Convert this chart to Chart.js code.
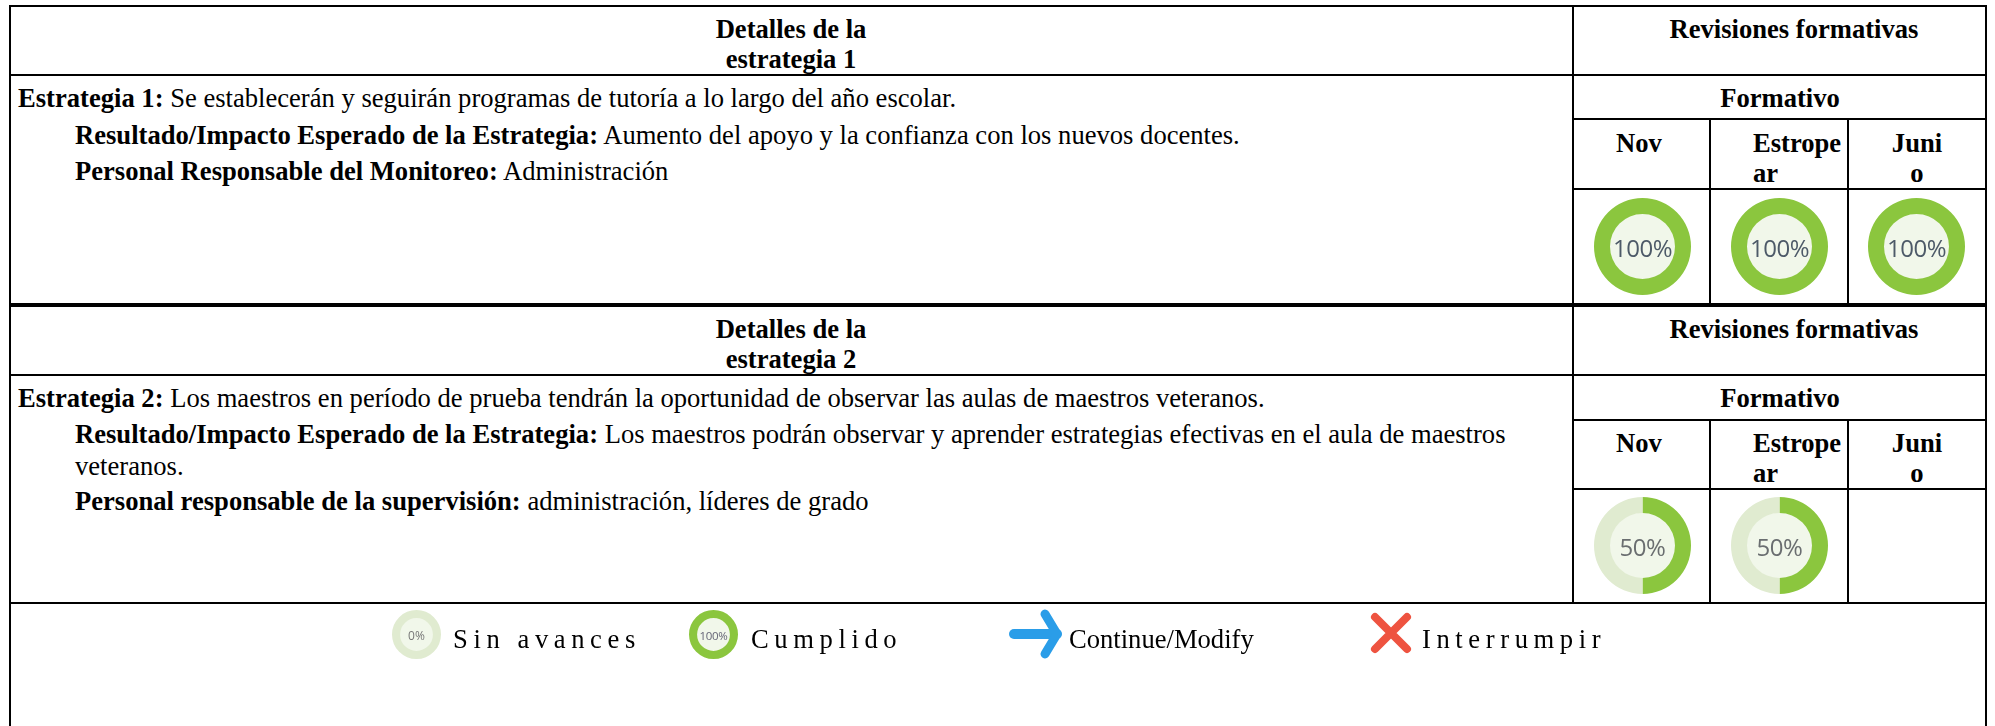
<!DOCTYPE html>
<html lang="es">
<head>
<meta charset="utf-8">
<title>Detalles de la estrategia</title>
<script src="https://cdn.jsdelivr.net/npm/chart.js@4"></script>
<style>
html, body { margin: 0; padding: 0; background: #fff; }
#page { position: relative; width: 1995px; height: 726px; overflow: hidden; font-family: "Liberation Serif", serif; font-size: 26.6px; color: #000; }
.h, .v { position: absolute; background: #000; }
.t { position: absolute; line-height: 30px; white-space: nowrap; }
.c { transform: translateX(-50%); }
.sp { letter-spacing: 5.6px; }
.donut { position: absolute; }
.donut canvas { display: block; }
.donut span { position: absolute; left: 0; right: 0; top: 50%; transform: translateY(-50%); text-align: center; font-family: "Open Sans", sans-serif; }
svg { position: absolute; }
</style>
</head>
<body>
<div id="page">
  <!-- table lines -->
  <div class="h" style="left:9px;top:5px;width:1978px;height:2px"></div>
  <div class="h" style="left:9px;top:74px;width:1978px;height:2px"></div>
  <div class="h" style="left:1573px;top:118px;width:414px;height:2px"></div>
  <div class="h" style="left:1573px;top:188px;width:414px;height:2px"></div>
  <div class="h" style="left:9px;top:303px;width:1978px;height:4px"></div>
  <div class="h" style="left:9px;top:374px;width:1978px;height:2px"></div>
  <div class="h" style="left:1573px;top:419px;width:414px;height:2px"></div>
  <div class="h" style="left:1573px;top:488px;width:414px;height:2px"></div>
  <div class="h" style="left:9px;top:602px;width:1978px;height:2px"></div>
  <div class="v" style="left:9px;top:5px;width:2px;height:721px"></div>
  <div class="v" style="left:1985px;top:5px;width:2px;height:721px"></div>
  <div class="v" style="left:1572px;top:5px;width:2px;height:598px"></div>
  <div class="v" style="left:1709px;top:118px;width:2px;height:186px"></div>
  <div class="v" style="left:1847px;top:118px;width:2px;height:186px"></div>
  <div class="v" style="left:1709px;top:419px;width:2px;height:184px"></div>
  <div class="v" style="left:1847px;top:419px;width:2px;height:184px"></div>

  <!-- strategy 1 -->
  <div class="t c" style="left:791px;top:14px"><b>Detalles de la</b></div>
  <div class="t c" style="left:791px;top:44px"><b>estrategia 1</b></div>
  <div class="t" style="left:18px;top:83px"><b>Estrategia 1:</b> Se establecerán y seguirán programas de tutoría a lo largo del año escolar.</div>
  <div class="t" style="left:75px;top:120px"><b>Resultado/Impacto Esperado de la Estrategia:</b> Aumento del apoyo y la confianza con los nuevos docentes.</div>
  <div class="t" style="left:75px;top:156px"><b>Personal Responsable del Monitoreo:</b> Administración</div>
  <div class="t c" style="left:1794px;top:14px"><b>Revisiones formativas</b></div>
  <div class="t c" style="left:1780px;top:83px"><b>Formativo</b></div>
  <div class="t c" style="left:1639px;top:128px"><b>Nov</b></div>
  <div class="t" style="left:1753px;top:128px"><b>Estrope</b></div>
  <div class="t" style="left:1753px;top:158px"><b>ar</b></div>
  <div class="t c" style="left:1917px;top:128px"><b>Juni</b></div>
  <div class="t c" style="left:1917px;top:158px"><b>o</b></div>

  <!-- strategy 2 -->
  <div class="t c" style="left:791px;top:314px"><b>Detalles de la</b></div>
  <div class="t c" style="left:791px;top:344px"><b>estrategia 2</b></div>
  <div class="t" style="left:18px;top:383px"><b>Estrategia 2:</b> Los maestros en período de prueba tendrán la oportunidad de observar las aulas de maestros veteranos.</div>
  <div class="t" style="left:75px;top:419px"><b>Resultado/Impacto Esperado de la Estrategia:</b> Los maestros podrán observar y aprender estrategias efectivas en el aula de maestros</div>
  <div class="t" style="left:75px;top:451px">veteranos.</div>
  <div class="t" style="left:75px;top:486px"><b>Personal responsable de la supervisión:</b> administración, líderes de grado</div>
  <div class="t c" style="left:1794px;top:314px"><b>Revisiones formativas</b></div>
  <div class="t c" style="left:1780px;top:383px"><b>Formativo</b></div>
  <div class="t c" style="left:1639px;top:428px"><b>Nov</b></div>
  <div class="t" style="left:1753px;top:428px"><b>Estrope</b></div>
  <div class="t" style="left:1753px;top:458px"><b>ar</b></div>
  <div class="t c" style="left:1917px;top:428px"><b>Juni</b></div>
  <div class="t c" style="left:1917px;top:458px"><b>o</b></div>

  <!-- doughnuts, drawn by chart.js below -->
  <div class="donut" style="left:1594px;top:198px;width:97px;height:97px"><canvas id="s1a" width="97" height="97"></canvas><span id="s1a-l" style="font-size:24px;letter-spacing:-.5px;color:#4d5a68"></span></div>
  <div class="donut" style="left:1731px;top:198px;width:97px;height:97px"><canvas id="s1b" width="97" height="97"></canvas><span id="s1b-l" style="font-size:24px;letter-spacing:-.5px;color:#4d5a68"></span></div>
  <div class="donut" style="left:1868px;top:198px;width:97px;height:97px"><canvas id="s1c" width="97" height="97"></canvas><span id="s1c-l" style="font-size:24px;letter-spacing:-.5px;color:#4d5a68"></span></div>
  <div class="donut" style="left:1594px;top:497px;width:97px;height:97px"><canvas id="s2a" width="97" height="97"></canvas><span id="s2a-l" style="font-size:24px;letter-spacing:-.5px;color:#6a6e70"></span></div>
  <div class="donut" style="left:1731px;top:497px;width:97px;height:97px"><canvas id="s2b" width="97" height="97"></canvas><span id="s2b-l" style="font-size:24px;letter-spacing:-.5px;color:#6a6e70"></span></div>
  <div class="donut" style="left:392px;top:610px;width:49px;height:49px"><canvas id="lg0" width="49" height="49"></canvas><span id="lg0-l" style="font-size:12px;color:#777"></span></div>
  <div class="donut" style="left:689px;top:610px;width:49px;height:49px"><canvas id="lg1" width="49" height="49"></canvas><span id="lg1-l" style="font-size:11.5px;letter-spacing:-.3px;color:#667"></span></div>

  <!-- legend -->
  <div class="t sp" style="left:453px;top:624px">Sin avances</div>
  <div class="t sp" style="left:751px;top:624px">Cumplido</div>
  <svg style="left:1005px;top:606px" width="60" height="56" viewBox="0 0 60 56">
    <path d="M9 28H52" stroke="#2a9de8" stroke-width="10" stroke-linecap="round" fill="none"/>
    <path d="M40 8L52 28L40 48" stroke="#2a9de8" stroke-width="9" stroke-linecap="round" stroke-linejoin="round" fill="none"/>
  </svg>
  <div class="t" style="left:1069px;top:624px">Continue/Modify</div>
  <svg style="left:1368px;top:610px" width="46" height="46" viewBox="0 0 46 46">
    <path d="M7 7L39 39M39 7L7 39" stroke="#ee5340" stroke-width="8" stroke-linecap="round" fill="none"/>
  </svg>
  <div class="t sp" style="left:1422px;top:624px">Interrumpir</div>
</div>

<script>
// progress shown in each doughnut (done, then what is left)
var chartIds = ['s1a', 's1b', 's1c', 's2a', 's2b', 'lg0', 'lg1'];
var doneValues = [100, 100, 100, 50, 50, 0, 100];
var leftValues = [0, 0, 0, 50, 50, 100, 0];

// fills the middle of the ring with the pale green
var holeFill = {
    id: 'holeFill',
    beforeDatasetsDraw: function (chart) {
        var arc = chart.getDatasetMeta(0).data[0];
        var ctx = chart.ctx;
        ctx.save();
        ctx.fillStyle = '#f1f7ea';
        ctx.beginPath();
        ctx.arc(arc.x, arc.y, arc.innerRadius + 0.5, 0, Math.PI * 2);
        ctx.fill();
        ctx.restore();
    }
};

chartIds.forEach(function (id, i) {
    document.getElementById(id + '-l').textContent = doneValues[i] + '%';
    new Chart(document.getElementById(id).getContext('2d'), {
        type: 'doughnut',
        data: {
            labels: ['Cumplido', 'Restante'],
            datasets: [{
                data: [doneValues[i], leftValues[i]],
                backgroundColor: ['#8bc63e', '#e0ebd0'],
                borderWidth: 0
            }]
        },
        options: {
            responsive: false,
            animation: false,
            cutout: '67%',
            plugins: { legend: { display: false }, tooltip: { enabled: false } }
        },
        plugins: [holeFill]
    });
});
</script>
</body>
</html>
